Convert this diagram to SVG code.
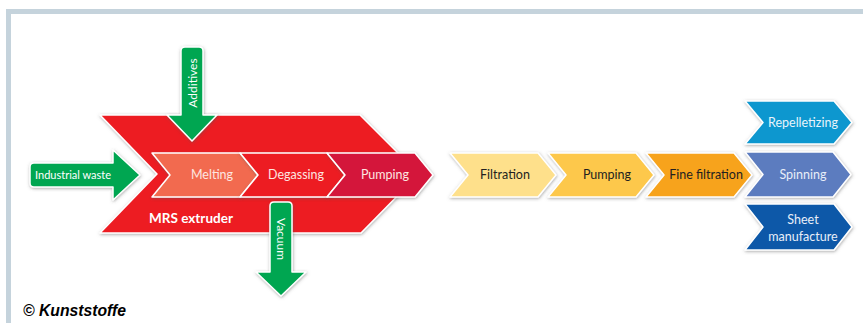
<svg xmlns="http://www.w3.org/2000/svg" width="863" height="323" viewBox="0 0 863 323">
<defs>
<filter id="sh" x="-20%" y="-20%" width="140%" height="140%">
<feDropShadow dx="0.5" dy="1" stdDeviation="1.5" flood-color="#555" flood-opacity="0.5"/>
</filter>
</defs>
<style>
.chev{stroke:#fff;stroke-width:1.5;stroke-linejoin:round;filter:url(#sh)}
.arr{fill:#00a651;stroke:#fff;stroke-width:1.5;stroke-linejoin:round;filter:url(#sh)}
.t{font-family:Lato,"Noto Sans",sans-serif;font-size:12.5px;text-anchor:middle}
.w{fill:#fff}
.k{fill:#231f20}
</style>
<rect x="0" y="0" width="863" height="323" fill="#fff"/>
<path d="M8.5 323 V11.5 H863" fill="none" stroke="#c5d3dc" stroke-width="5"/>

<g id="mrs-extruder">
<path class="chev" d="M100 115 H360 L419 174 L361 233 H100 L157 174 Z" fill="#ed1c24"/>
<text x="191" y="223" class="w" style="font-family:Lato,'Noto Sans',sans-serif;font-size:13.5px;font-weight:bold;text-anchor:middle">MRS extruder</text>
</g>

<g id="connectors">
<g id="industrial-waste">
<path class="arr" d="M34 163 H113 V150 L140 175 L113 200 V187 H34 Q30 187 30 183 V167 Q30 163 34 163 Z"/>
<text x="73" y="179" class="t w" style="font-size:11px">Industrial waste</text>
</g>
<g id="additives">
<path class="arr" d="M181 51 Q181 47 185 47 H199 Q203 47 203 51 V115 H217 L192 141 L167 115 H181 Z"/>
<text transform="translate(196.5 83) rotate(-90)" class="t w" style="font-size:12px">Additives</text>
</g>
<g id="vacuum">
<path class="arr" d="M270 206 Q270 202 274 202 H288 Q292 202 292 206 V272 H306 L281 296 L256 272 H270 Z"/>
<text transform="translate(277 239) rotate(90)" class="t w" style="font-size:12px">Vacuum</text>
</g>
</g>

<g id="melting">
<path class="chev" d="M152 153 H240 L258 175 L240 197 H152 L170 175 Z" fill="#f26b4f"/>
<text x="212" y="179" class="t" fill="#fde6e0">Melting</text>
</g>
<g id="degassing">
<path class="chev" d="M240 153 H327 L345 175 L327 197 H240 L258 175 Z" fill="#ed1c24"/>
<text x="296" y="179" class="t" fill="#fde6e0">Degassing</text>
</g>
<g id="pumping1">
<path class="chev" d="M327 153 H415 L433 175 L415 197 H327 L345 175 Z" fill="#d4163a"/>
<text x="385" y="179" class="t" fill="#fde6e0">Pumping</text>
</g>

<g id="filtration">
<path class="chev" d="M450 153 H538 L556 175 L538 197 H450 L468 175 Z" fill="#fee08b"/>
<text x="505" y="179" class="t k">Filtration</text>
</g>
<g id="pumping2">
<path class="chev" d="M548 153 H636 L654 175 L636 197 H548 L566 175 Z" fill="#fdc84b"/>
<text x="607" y="179" class="t k">Pumping</text>
</g>
<g id="fine-filtration">
<path class="chev" d="M646 153 H734 L752 175 L734 197 H646 L664 175 Z" fill="#f7a31c"/>
<text x="706" y="179" class="t k">Fine filtration</text>
</g>
<g id="spinning">
<path class="chev" d="M745 152 H833 L851 174.5 L833 197 H745 L763 174.5 Z" fill="#5b7bbf"/>
<text x="803" y="179" class="t" fill="#e8eef8">Spinning</text>
</g>
<g id="repelletizing">
<path class="chev" d="M745 101 H834 L852 122.5 L834 144 H745 L763 122.5 Z" fill="#0e97cf"/>
<text x="803" y="127" class="t" fill="#e8f4fb">Repelletizing</text>
</g>
<g id="sheet-manufacture">
<path class="chev" d="M745 204 H834 L852 227 L834 250 H745 L763 227 Z" fill="#0a58a8"/>
<text x="803" y="224" class="t" fill="#e8eef8">Sheet</text>
<text x="803" y="241" class="t" fill="#e8eef8">manufacture</text>
</g>

<text x="23" y="316" style="font-family:'Liberation Sans',Arial,sans-serif;font-size:17px;font-weight:bold;font-style:italic" fill="#000" textLength="103" lengthAdjust="spacingAndGlyphs">© Kunststoffe</text>
</svg>
